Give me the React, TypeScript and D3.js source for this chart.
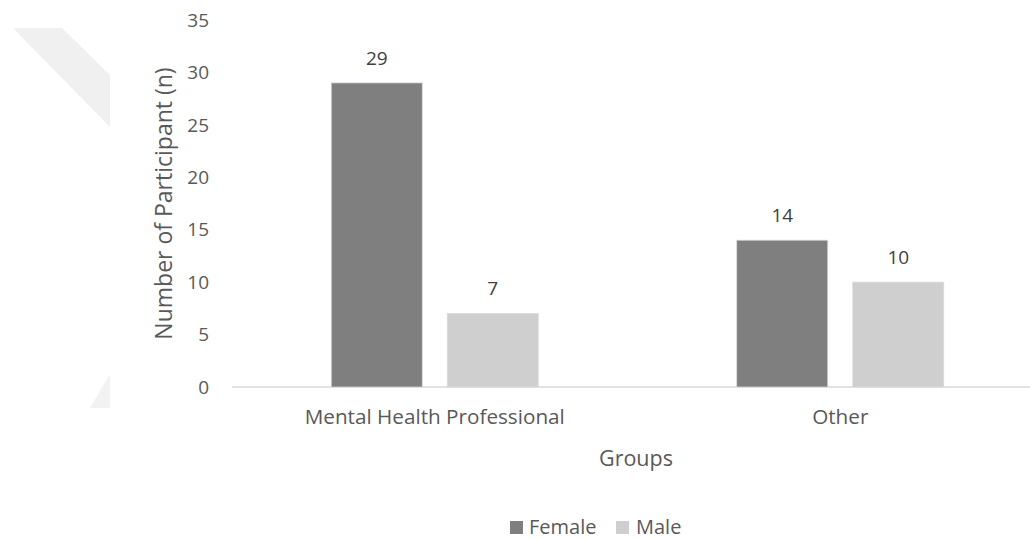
import React from "react";
import * as d3 from "d3";

const categories = ["Mental Health Professional", "Other"];
const seriesNames = ["Female", "Male"];
const femaleValues = [29, 14];
const maleValues = [7, 10];
const yTicks = [0, 5, 10, 15, 20, 25, 30, 35];
const colors = ["#7f7f7f", "#d0cfd0"];

const W = 1030;
const H = 540;
const FONT = "'Open Sans', 'Noto Sans', sans-serif";
const TEXT = "#595959";

export default function App() {
  const x0 = d3.scaleBand<string>().domain(categories).range([232, 1043]).paddingInner(0).paddingOuter(0);
  const x1 = d3.scaleBand<string>().domain(seriesNames).range([0, 207]).paddingInner(25 / 116).paddingOuter(0);
  const y = d3.scaleLinear().domain([0, 35]).range([387, 20]);
  const series = [femaleValues, maleValues];

  return (
    <svg width={W} height={H} style={{ position: "absolute", left: 0, top: 0, background: "#fff" }}>
      <polygon points="13,28 62,28 110,75 110,127" fill="#f0f0f0" />
      <polygon points="110,374 110,408 90,408" fill="#f2f2f2" />
      {/* y tick labels */}
      {yTicks.map((t) => (
        <text key={t} x={209} y={y(t)} dy="0.35em" textAnchor="end" fontFamily={FONT} fontSize={19} fill={TEXT}>
          {t}
        </text>
      ))}
      {/* axis line */}
      <line x1={232} x2={W} y1={y(0)} y2={y(0)} stroke="#d9d9d9" strokeWidth={1.5} />
      {/* bars */}
      {categories.map((c, ci) => {
        const gx = (x0(c) ?? 0) + (x0.bandwidth() - 207) / 2;
        return seriesNames.map((s, si) => {
          const v = series[si][ci];
          const bx = gx + (x1(s) ?? 0);
          return (
            <g key={c + s}>
              <rect x={bx} y={y(v)} width={x1.bandwidth()} height={y(0) - y(v)} fill={colors[si]} stroke="#d9d9d9" strokeWidth={0.75} />
              <text x={bx + x1.bandwidth() / 2} y={y(v) - 25} dy="0.35em" textAnchor="middle" fontFamily={FONT} fontSize={19} fill="#404040">
                {v}
              </text>
            </g>
          );
        });
      })}
      {/* category labels */}
      {categories.map((c) => (
        <text key={c} x={(x0(c) ?? 0) + x0.bandwidth() / 2} y={417} dy="0.35em" textAnchor="middle" fontFamily={FONT} fontSize={20.7} fill={TEXT}>
          {c}
        </text>
      ))}
      {/* axis titles */}
      <text x={636} y={458} dy="0.35em" textAnchor="middle" fontFamily={FONT} fontSize={21.5} fill={TEXT}>
        Groups
      </text>
      <text transform={`translate(164,${y(17.5)}) rotate(-90)`} dy="0.35em" textAnchor="middle" fontFamily={FONT} fontSize={23} fill={TEXT}>
        Number of Participant (n)
      </text>
      {/* legend */}
      <g>
        <rect x={510} y={521} width={13} height={13} fill={colors[0]} />
        <text x={529} y={527} dy="0.35em" fontFamily={FONT} fontSize={20} fill={TEXT}>Female</text>
        <rect x={616} y={521} width={13} height={13} fill={colors[1]} />
        <text x={636} y={527} dy="0.35em" fontFamily={FONT} fontSize={20} fill={TEXT}>Male</text>
      </g>
    </svg>
  );
}
